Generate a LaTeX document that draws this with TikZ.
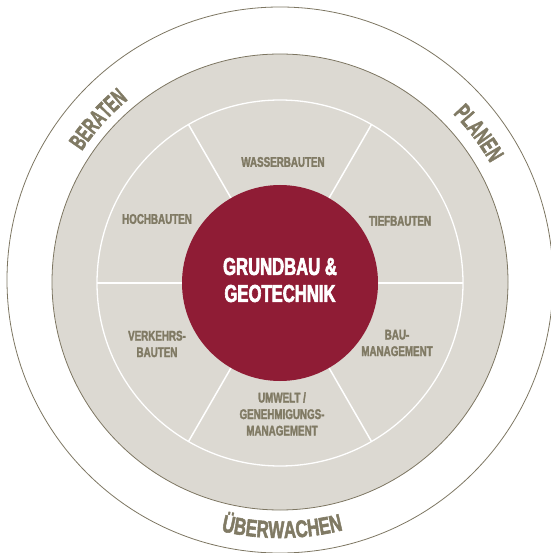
\documentclass[tikz,border=0pt]{standalone}
\usepackage{fontspec}
\usetikzlibrary{calc}
\newfontfamily\cfb[FakeStretch=0.7,FakeBold=2]{Liberation Sans Bold}
\newfontfamily\cfh[FakeStretch=0.68,FakeBold=2.5]{Liberation Sans Bold}
\newfontfamily\cfr[FakeBold=2.5]{Liberation Sans Bold}
\definecolor{olivetxt}{RGB}{128,122,100}
\definecolor{ringline}{RGB}{125,118,98}
\definecolor{diskgray}{RGB}{220,217,210}
\definecolor{geored}{RGB}{143,28,53}
\begin{document}
\begin{tikzpicture}[x=1pt,y=1pt,
  lbl/.style={font=\cfb\fontsize{14}{16.5}\selectfont, text=olivetxt, align=center, inner sep=0pt},
  ctr/.style={font=\cfh\fontsize{24.5}{27}\selectfont, text=white, align=center, inner sep=0pt},
  ringch/.style={font=\cfr\fontsize{24}{24}\selectfont, text=olivetxt, inner sep=0pt, anchor=base},
  sepline/.style={draw=white, line width=1.5pt}]
\useasboundingbox (0,0) rectangle (550,-553);
\coordinate (C) at (280,-283);
\coordinate (O) at (280,-280);
\coordinate (D) at (280,-282);
% outer ring line
\draw[ringline, line width=0.8pt] (O) circle[radius=273pt];
% gray disk
\fill[diskgray] (D) circle[radius=228pt];
\draw[ringline, line width=0.8pt] (D) circle[radius=228pt];
% inner white circle and separators
\draw[white, line width=1.3pt] (C) circle[radius=183pt];
\foreach \a in {0,60,...,300}
  \draw[sepline] ($(C)+(\a:97pt)$) -- ($(C)+(\a:183pt)$);
% red core
\fill[geored] (C) circle[radius=98pt];
\node[ctr] (core) at (280,-280) {GRUNDBAU \&\\GEOTECHNIK};
% sector labels
\node[lbl] (wasser) at (283,-162) {WASSERBAUTEN};
\node[lbl] (hoch) at (157,-219) {HOCHBAUTEN};
\node[lbl] (tief) at (400,-221) {TIEFBAUTEN};
\node[lbl] (verkehr) at (157,-344) {VERKEHRS-\\BAUTEN};
\node[lbl] (bau) at (397,-343) {BAU-\\MANAGEMENT};
\node[lbl] (umwelt) at (282,-414) {UMWELT /\\GENEHMIGUNGS-\\MANAGEMENT};
% ring texts: BERATEN (top, clockwise)
\foreach \ch/\d [count=\i] in {B/-2.0555,E/-1.361,R/-0.6665,A/0.0555,T/0.722,E/1.361,N/2.0555} {
  \pgfmathsetmacro\ang{138 - \d*24*0.6/238*57.2958}
  \node[ringch, rotate=\ang-90, xscale=0.6] (ber\i) at ($(C)+(\ang:238pt)$) {\ch};
}
% PLANEN (top, clockwise)
\foreach \ch/\d [count=\i] in {P/-1.722,L/-1.083,A/-0.4165,N/0.3055,E/1.0,N/1.6945} {
  \pgfmathsetmacro\ang{37 - \d*24*0.63/242*57.2958}
  \node[ringch, rotate=\ang-90, xscale=0.63] (pla\i) at ($(C)+(\ang:242pt)$) {\ch};
}
% ÜBERWACHEN (bottom, counter-clockwise)
\foreach \ch/\d [count=\i] in {Ü/-3.305,B/-2.583,E/-1.8885,R/-1.194,W/-0.361,A/0.472,C/1.194,H/1.916,E/2.6105,N/3.305} {
  \pgfmathsetmacro\ang{-89.5 + \d*24*0.7/255*57.2958}
  \node[ringch, rotate=\ang+90, xscale=0.7] (ueb\i) at ($(C)+(\ang:255pt)$) {\ch};
}
\end{tikzpicture}
\end{document}
